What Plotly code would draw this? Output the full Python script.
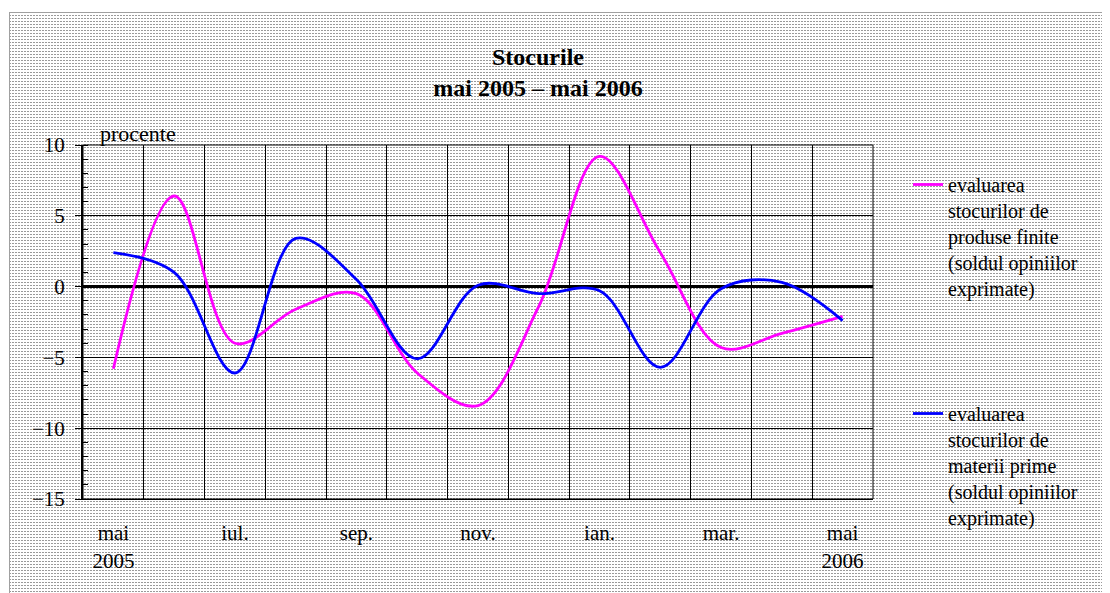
import base64
import plotly.graph_objects as go

months = ["mai 2005", "iun. 2005", "iul. 2005", "aug. 2005", "sep. 2005", "oct. 2005",
          "nov. 2005", "dec. 2005", "ian. 2006", "feb. 2006", "mar. 2006", "apr. 2006", "mai 2006"]
tick_labels = ["mai<br>2005", "", "iul.", "", "sep.", "", "nov.", "", "ian.", "", "mar.", "", "mai<br>2006"]

produse_finite = [-5.8, 6.4, -4.0, -1.6, -0.5, -6.1, -8.4, -1.4, 9.2, 2.4, -4.3, -3.3, -2.1]
materii_prime = [2.4, 1.0, -6.1, 3.4, 0.5, -5.1, 0.1, -0.5, -0.3, -5.7, -0.15, 0.3, -2.4]

name_pf = "evaluarea<br>stocurilor de<br>produse finite<br>(soldul opiniilor<br>exprimate)"
name_mp = "evaluarea<br>stocurilor de<br>materii prime<br>(soldul opiniilor<br>exprimate)"

FONT = "Liberation Serif, Times New Roman, serif"

# the page body adds an 8px offset, so the figure is sized to fit the window
W, H = 1102, 585
L, T = 75, 137
PW, PH = 790, 354
R, B = W - L - PW, H - T - PH

# dotted background texture
bx, by = 1, 4
bw, bh = W - bx, H - by
svg = f'''<svg xmlns="http://www.w3.org/2000/svg" width="{bw}" height="{bh}" viewBox="0 0 {bw} {bh}" preserveAspectRatio="none">
<defs><pattern id="p" width="3" height="3" patternUnits="userSpaceOnUse">
<rect width="3" height="3" fill="#ffffff"/><rect x="0" y="0" width="2" height="1" fill="#9a9a9a"/></pattern></defs>
<rect width="{bw}" height="{bh}" fill="url(#p)"/>
<path d="M0.5,{bh} V0.5 H{bw}" stroke="#a0a0a0" stroke-width="1" fill="none"/>
</svg>'''
src = "data:image/svg+xml;base64," + base64.b64encode(svg.encode()).decode()

fig = go.Figure()
fig.add_trace(go.Scatter(x=months, y=produse_finite, mode="lines", name=name_pf,
                         legendgroup="a",
                         line=dict(color="#FF00FF", width=2.8, shape="spline", smoothing=1.0)))
fig.add_trace(go.Scatter(x=months, y=materii_prime, mode="lines", name=name_mp,
                         legendgroup="b",
                         line=dict(color="#0000FF", width=2.8, shape="spline", smoothing=1.0)))

fig.update_layout(
    width=W, height=H,
    margin=dict(l=L, r=R, t=T, b=B, pad=0, autoexpand=False),
    paper_bgcolor="white", plot_bgcolor="white",
    font=dict(family=FONT, size=21, color="black"),
    title=dict(text="<b>Stocurile</b><br><b>mai 2005 – mai 2006</b>",
               font=dict(family=FONT, size=24, color="black"),
               x=530 / W, xanchor="center", xref="container",
               y=1 - 57 / H, yanchor="top", yref="container"),
    showlegend=True,
    legend=dict(x=(900 - L) / PW, xanchor="left", y=1 - (157 - T) / PH, yanchor="top",
                bgcolor="rgba(0,0,0,0)", font=dict(family=FONT, size=20, color="black"),
                valign="top", tracegroupgap=96, traceorder="grouped", maxheight=600),
    images=[dict(source=src, xref="paper", yref="paper",
                 x=(bx - L) / PW, y=1 + (T - by) / PH,
                 sizex=bw / PW, sizey=bh / PH,
                 xanchor="left", yanchor="top", sizing="stretch", layer="below")],
    shapes=[dict(type="rect", xref="paper", yref="paper", x0=0, x1=1, y0=0, y1=1,
                 line=dict(color="black", width=1), layer="above")],
    annotations=[dict(text="procente", xref="paper", yref="paper",
                      x=(90 - L) / PW, y=1 + (T - 125) / PH,
                      xanchor="left", yanchor="middle", showarrow=False,
                      font=dict(family=FONT, size=22, color="black"))],
)

fig.update_xaxes(type="category", categoryorder="array", categoryarray=months,
                 tickmode="array", tickvals=months, ticktext=tick_labels,
                 tickson="boundaries", ticks="", showgrid=True, gridcolor="black", gridwidth=1,
                 showline=True, linecolor="black", linewidth=1,
                 tickfont=dict(family=FONT, size=21, color="black"),
                 ticklabelstandoff=15, range=[-0.5, 12.5])

fig.update_yaxes(range=[-15, 10], tickmode="array", tickvals=[-15, -10, -5, 0, 5, 10],
                 ticks="outside", ticklen=6, tickcolor="black", tickwidth=1,
                 showline=True, linecolor="black", linewidth=2,
                 showgrid=True, gridcolor="black", gridwidth=1,
                 zeroline=True, zerolinecolor="black", zerolinewidth=2.5,
                 minor=dict(dtick=1, ticks="inside", ticklen=5, tickcolor="black", showgrid=False),
                 tickfont=dict(family=FONT, size=21, color="black"),
                 ticklabelstandoff=6)

fig.write_html("out.html")
